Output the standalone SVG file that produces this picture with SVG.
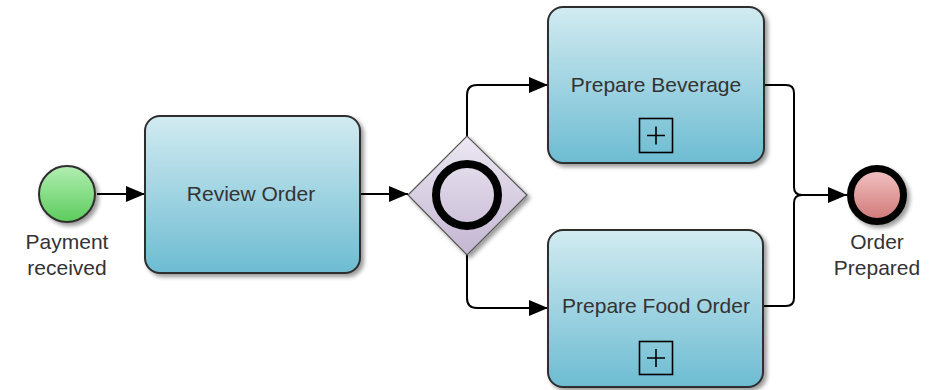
<svg xmlns="http://www.w3.org/2000/svg" width="944" height="390" viewBox="0 0 944 390">
  <defs>
    <linearGradient id="taskFill" x1="0" y1="0" x2="0" y2="1">
      <stop offset="0" stop-color="#d2ebf1"/>
      <stop offset="1" stop-color="#6dbcd2"/>
    </linearGradient>
    <linearGradient id="startFill" x1="0" y1="0" x2="0" y2="1">
      <stop offset="0" stop-color="#b2eeb2"/>
      <stop offset="1" stop-color="#5ccc5c"/>
    </linearGradient>
    <linearGradient id="endFill" x1="0" y1="0" x2="0" y2="1">
      <stop offset="0" stop-color="#f3c4c4"/>
      <stop offset="1" stop-color="#cf7676"/>
    </linearGradient>
    <linearGradient id="gateFill" x1="0" y1="0" x2="0" y2="1">
      <stop offset="0" stop-color="#ece8f2"/>
      <stop offset="1" stop-color="#c4b6d3"/>
    </linearGradient>
    <filter id="shadow" x="-10%" y="-10%" width="130%" height="130%">
      <feGaussianBlur in="SourceAlpha" stdDeviation="2"/>
      <feOffset dx="3" dy="3" result="b"/>
      <feComponentTransfer><feFuncA type="linear" slope="0.4"/></feComponentTransfer>
      <feMerge><feMergeNode/><feMergeNode in="SourceGraphic"/></feMerge>
    </filter>
    <marker id="arrow" markerWidth="19" markerHeight="16" refX="19" refY="8" orient="auto" markerUnits="userSpaceOnUse">
      <path d="M0,0 L19,8 L0,16 Z" fill="#000"/>
    </marker>
  </defs>
  <style>
    .task { fill: url(#taskFill); stroke: #2e2e2e; stroke-width: 2; }
    .label { font-family: "Liberation Sans", Arial, sans-serif; font-size: 21px; fill: #333; text-anchor: middle; }
    .flow { fill: none; stroke: #000; stroke-width: 2; }
    .plus { fill: none; stroke: #000; stroke-width: 1.6; }
  </style>

  <g id="connectors">
    <line class="flow" x1="97" y1="194" x2="145" y2="194" marker-end="url(#arrow)"/>
    <line class="flow" x1="360" y1="194" x2="408" y2="194" marker-end="url(#arrow)"/>
    <path class="flow" d="M467,136 V95 Q467,85 477,85 H548" marker-end="url(#arrow)"/>
    <path class="flow" d="M467,254 V298 Q467,308 477,308 H548" marker-end="url(#arrow)"/>
    <path class="flow" d="M764,85 H786 Q794,85 794,93 V187 Q794,195 802,195"/>
    <path class="flow" d="M763,306 H786 Q794,306 794,298 V203 Q794,195 802,195 H847" marker-end="url(#arrow)"/>
  </g>

  <g id="start">
    <circle cx="67" cy="194" r="28" fill="url(#startFill)" stroke="#2e2e2e" stroke-width="2" filter="url(#shadow)"/>
    <text class="label" x="67" y="249">Payment</text>
    <text class="label" x="67" y="275">received</text>
  </g>

  <g id="review-order">
    <rect class="task" x="145" y="116" width="215" height="157" rx="15" filter="url(#shadow)"/>
    <text class="label" x="251" y="201">Review Order</text>
  </g>

  <g id="gateway">
    <path d="M408,195 L467,136 L527,195 L467,255 Z" fill="url(#gateFill)" stroke="#555" stroke-width="1.2" filter="url(#shadow)"/>
    <circle cx="467" cy="195" r="31" fill="none" stroke="#000" stroke-width="8"/>
  </g>

  <g id="prepare-beverage">
    <rect class="task" x="548" y="7" width="216" height="156" rx="15" filter="url(#shadow)"/>
    <text class="label" x="656" y="92">Prepare Beverage</text>
    <rect class="plus" x="639.5" y="118.5" width="33" height="34"/>
    <path class="plus" d="M647,135.5 H665 M656,126.5 V144.5"/>
  </g>

  <g id="prepare-food">
    <rect class="task" x="548" y="230" width="215" height="157" rx="15" filter="url(#shadow)"/>
    <text class="label" x="656" y="313">Prepare Food Order</text>
    <rect class="plus" x="639.5" y="341.5" width="33" height="33"/>
    <path class="plus" d="M647,358 H665 M656,349 V367"/>
  </g>

  <g id="end">
    <circle cx="877" cy="195" r="26.5" fill="url(#endFill)" stroke="#000" stroke-width="7" filter="url(#shadow)"/>
    <text class="label" x="877" y="249">Order</text>
    <text class="label" x="877" y="275">Prepared</text>
  </g>
</svg>
